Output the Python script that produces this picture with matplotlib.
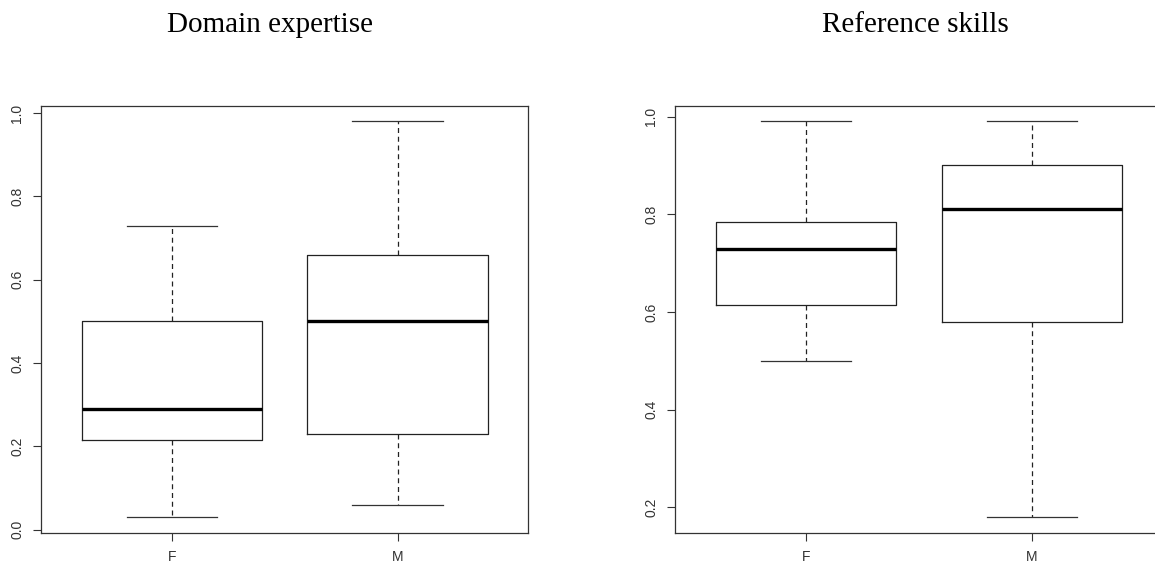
import matplotlib.pyplot as plt

# Five-number summaries per gender (min, q1, median, q3, max)
groups = ['F', 'M']

domain_min = [0.03, 0.06]
domain_q1 = [0.215, 0.23]
domain_med = [0.29, 0.50]
domain_q3 = [0.50, 0.66]
domain_max = [0.73, 0.98]

ref_min = [0.50, 0.18]
ref_q1 = [0.615, 0.58]
ref_med = [0.73, 0.81]
ref_q3 = [0.785, 0.90]
ref_max = [0.99, 0.99]

domain_ticks = [0.0, 0.2, 0.4, 0.6, 0.8, 1.0]
ref_ticks = [0.2, 0.4, 0.6, 0.8, 1.0]


def make_stats(lo, q1, med, q3, hi):
    return [dict(label=g, whislo=a, q1=b, med=c, q3=d, whishi=e, fliers=[])
            for g, a, b, c, d, e in zip(groups, lo, q1, med, q3, hi)]


def r_boxplot(ax, stats, yticks):
    ax.bxp(stats, positions=[1, 2], widths=0.8, showfliers=False,
           boxprops=dict(color='#222222', linewidth=0.9),
           medianprops=dict(color='black', linewidth=2.4, solid_capstyle='butt'),
           whiskerprops=dict(color='#222222', linewidth=0.9, linestyle=(0, (4, 3))),
           capprops=dict(color='#333333', linewidth=0.9),
           capwidths=0.4)
    lo = min(s['whislo'] for s in stats)
    hi = max(s['whishi'] for s in stats)
    pad = 0.04 * (hi - lo)
    ax.set_ylim(lo - pad, hi + pad)
    ax.set_xlim(0.42, 2.58)
    ax.set_yticks(yticks)
    ax.set_yticklabels([f'{t:.1f}' for t in yticks], rotation=90, va='center')
    ax.set_xticks([1, 2])
    ax.set_xticklabels(groups)
    ax.tick_params(length=6, width=0.8, color='#333333', labelcolor='#333333',
                   labelsize=10, pad=6)
    for sp in ax.spines.values():
        sp.set_color('#333333')
        sp.set_linewidth(0.9)


plt.rcParams['font.family'] = ['Liberation Sans', 'DejaVu Sans']
fig = plt.figure(figsize=(11.55, 5.66), dpi=100)

ax1 = fig.add_axes([0.0355, 0.0583, 0.422, 0.755])
ax2 = fig.add_axes([0.5844, 0.0583, 0.4225, 0.755])

r_boxplot(ax1, make_stats(domain_min, domain_q1, domain_med, domain_q3, domain_max),
          domain_ticks)
r_boxplot(ax2, make_stats(ref_min, ref_q1, ref_med, ref_q3, ref_max),
          ref_ticks)

# panel titles
fig.text(270 / 1155, 1 - 25 / 566, 'Domain expertise', ha='center', va='center',
         fontsize=21, family='Liberation Serif')
fig.text(915 / 1155, 1 - 25 / 566, 'Reference skills', ha='center', va='center',
         fontsize=21, family='Liberation Serif')

fig.savefig('out.png', dpi=100)
